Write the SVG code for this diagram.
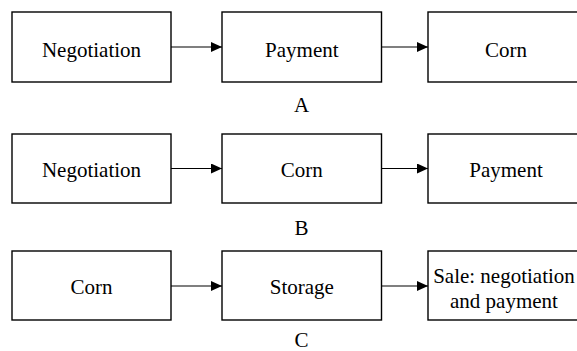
<svg xmlns="http://www.w3.org/2000/svg" width="577" height="351" viewBox="0 0 577 351">
  <style>
    .box { fill: #ffffff; stroke: #000000; stroke-width: 1.4; }
    text { font-family: "Liberation Serif", "Times New Roman", Times, "DejaVu Serif", serif; font-size: 21px; fill: #000000; text-anchor: middle; }
    .conn { stroke: #000000; stroke-width: 1.2; fill: none; marker-end: url(#arrow); }
  </style>
  <defs>
    <marker id="arrow" markerUnits="userSpaceOnUse" markerWidth="12" markerHeight="10" refX="11" refY="5" orient="auto">
      <path d="M0,0 L11,5 L0,10 Z" fill="#000000"/>
    </marker>
  </defs>
  <rect width="577" height="351" fill="#ffffff"/>

  <g id="connectors">
    <line class="conn" x1="171" y1="47" x2="222" y2="47"/>
    <line class="conn" x1="381.5" y1="47" x2="428" y2="47"/>
    <line class="conn" x1="171" y1="168.5" x2="222" y2="168.5"/>
    <line class="conn" x1="381.5" y1="168.5" x2="428" y2="168.5"/>
    <line class="conn" x1="171" y1="286" x2="222" y2="286"/>
    <line class="conn" x1="381.5" y1="286" x2="428" y2="286"/>
  </g>

  <g id="a-negotiation">
    <rect class="box" x="12" y="12" width="159" height="70"/>
    <text x="91.5" y="56.5" font-family="Liberation Serif">Negotiation</text>
  </g>
  <g id="a-payment">
    <rect class="box" x="222" y="12" width="159.5" height="70"/>
    <text x="301.8" y="56.5">Payment</text>
  </g>
  <g id="a-corn">
    <rect class="box" x="428" y="12" width="160" height="70"/>
    <text x="506" y="56.5">Corn</text>
  </g>
  <text x="301.5" y="112">A</text>

  <g id="b-negotiation">
    <rect class="box" x="12" y="134" width="159" height="69"/>
    <text x="91.5" y="177">Negotiation</text>
  </g>
  <g id="b-corn">
    <rect class="box" x="222" y="134" width="159.5" height="69"/>
    <text x="301.8" y="177">Corn</text>
  </g>
  <g id="b-payment">
    <rect class="box" x="428" y="134" width="160" height="69"/>
    <text x="506" y="177">Payment</text>
  </g>
  <text x="301.5" y="235">B</text>

  <g id="c-corn">
    <rect class="box" x="12" y="251" width="159" height="69"/>
    <text x="91.5" y="294">Corn</text>
  </g>
  <g id="c-storage">
    <rect class="box" x="222" y="251" width="159.5" height="69"/>
    <text x="301.8" y="294">Storage</text>
  </g>
  <g id="c-sale">
    <rect class="box" x="428" y="251" width="160" height="69"/>
    <text x="504" y="282.5">Sale: negotiation</text>
    <text x="504" y="308">and payment</text>
  </g>
  <text x="301.5" y="346.5">C</text>
</svg>
